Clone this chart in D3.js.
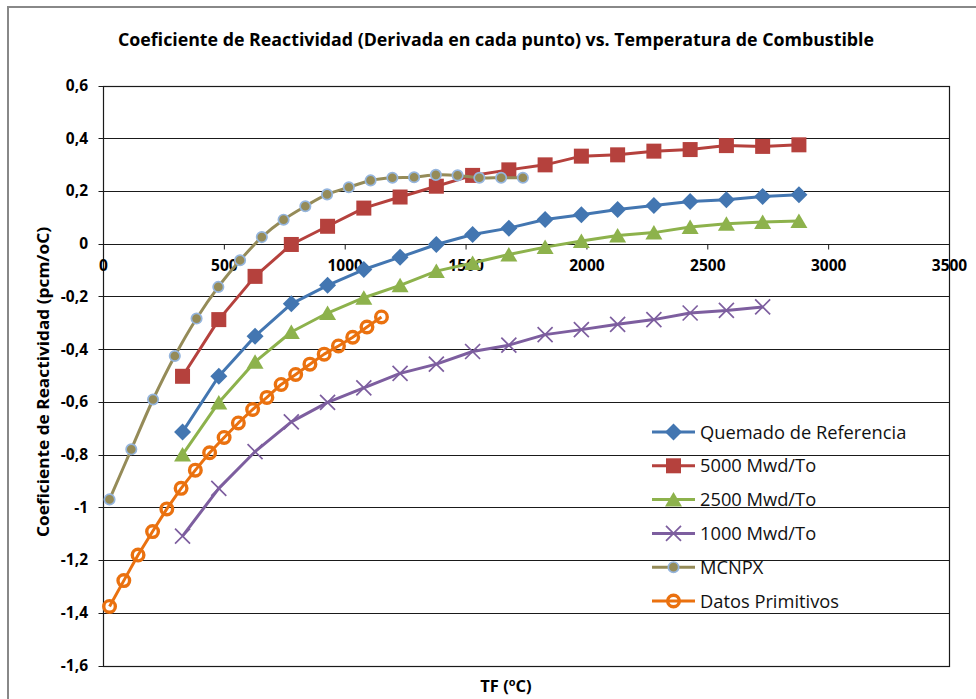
<!DOCTYPE html>
<html lang="es">
  <head>
    <meta charset="utf-8">
    <script src="https://d3js.org/d3.v7.min.js"></script>
    <style>
    body { margin: 0; background: #fff; }
    text { font-family: "Open Sans", "Noto Sans", sans-serif; }
    .grid line { stroke: #1a1a1a; stroke-width: 1px; }
    .tick-label { font-weight: bold; font-size: 15.5px; fill: #000; }
    </style>
    <title>Coeficiente de Reactividad</title>
  </head>
  <body>
    <script>
// x positions (TF, oC) of the calculated burnup cases
var xRef = [327, 477, 627, 777, 927, 1077, 1227, 1377, 1527, 1677, 1827, 1977, 2127, 2277, 2427, 2577, 2727, 2877];
var quemado = [-0.714, -0.503, -0.351, -0.228, -0.158, -0.098, -0.051, -0.003, 0.035, 0.059, 0.092, 0.110, 0.130, 0.145, 0.160, 0.167, 0.179, 0.186];
var mwd5000 = [-0.503, -0.288, -0.124, -0.003, 0.066, 0.135, 0.177, 0.218, 0.259, 0.280, 0.299, 0.332, 0.337, 0.351, 0.357, 0.372, 0.369, 0.375];
var mwd2500 = [-0.800, -0.602, -0.448, -0.335, -0.263, -0.205, -0.158, -0.104, -0.073, -0.041, -0.013, 0.010, 0.031, 0.042, 0.063, 0.076, 0.082, 0.086];
var x1000 = [327, 477, 627, 777, 927, 1077, 1227, 1377, 1527, 1677, 1827, 1977, 2127, 2277, 2427, 2577, 2727];
var mwd1000 = [-1.109, -0.928, -0.789, -0.676, -0.602, -0.547, -0.492, -0.457, -0.409, -0.385, -0.345, -0.326, -0.306, -0.288, -0.263, -0.253, -0.240];
var xMcnpx = [25, 115, 205, 295, 385, 475, 565, 655, 745, 835, 925, 1015, 1105, 1195, 1285, 1375, 1465, 1555, 1645, 1735];
var mcnpx = [-0.970, -0.780, -0.591, -0.426, -0.284, -0.164, -0.063, 0.025, 0.091, 0.142, 0.187, 0.214, 0.240, 0.250, 0.252, 0.261, 0.259, 0.250, 0.250, 0.250];
var xDatos = [25, 84, 143, 203, 262, 321, 380, 439, 499, 558, 617, 676, 735, 795, 854, 913, 972, 1031, 1090, 1150];
var datos = [-1.376, -1.278, -1.181, -1.092, -1.006, -0.928, -0.859, -0.793, -0.735, -0.680, -0.629, -0.583, -0.534, -0.496, -0.457, -0.419, -0.388, -0.355, -0.316, -0.278];

var xTicks = [0, 500, 1000, 1500, 2000, 2500, 3000, 3500];
var seriesNames = ["Quemado de Referencia", "5000 Mwd/To", "2500 Mwd/To", "1000 Mwd/To", "MCNPX", "Datos Primitivos"];

var series = [
  {name: seriesNames[0], xs: xRef, ys: quemado, color: "#4376B1", marker: "diamond"},
  {name: seriesNames[1], xs: xRef, ys: mwd5000, color: "#B5413D", marker: "square"},
  {name: seriesNames[2], xs: xRef, ys: mwd2500, color: "#8DB24C", marker: "triangle"},
  {name: seriesNames[3], xs: x1000, ys: mwd1000, color: "#7D5E9F", marker: "cross"},
  {name: seriesNames[4], xs: xMcnpx, ys: mcnpx, color: "#958B58", marker: "circle", smooth: true},
  {name: seriesNames[5], xs: xDatos, ys: datos, color: "#EA710F", marker: "ring"}
];

var w = 976, h = 699;
var svg = d3.select("body").append("svg").attr("width", w).attr("height", h);

// outer chart frame (cut off at right / bottom like the picture)
svg.append("rect").attr("x", 8).attr("y", 7).attr("width", 1100).attr("height", 1100)
   .attr("fill", "none").attr("stroke", "#888").attr("stroke-width", 2);

var x = d3.scaleLinear().domain([0, 3500]).range([103.5, 949.5]);
var y = d3.scaleLinear().domain([-1.6, 0.6]).range([665.5, 85.5]);

var loc = d3.formatLocale({decimal: ",", thousands: ".", grouping: [3], currency: ["", ""], minus: "-"});
var fmt = loc.format(".2~f");

// horizontal gridlines
svg.append("g").attr("class", "grid")
   .selectAll("line").data(y.ticks(11)).enter().append("line")
   .attr("x1", x(0) - 5).attr("x2", x(3500))
   .attr("y1", function(d) { return Math.round(y(d)) + 0.5; })
   .attr("y2", function(d) { return Math.round(y(d)) + 0.5; });

// plot border
svg.append("rect").attr("x", x(0)).attr("y", Math.round(y(0.6)) + 0.5)
   .attr("width", x(3500) - x(0)).attr("height", Math.round(y(-1.6)) - Math.round(y(0.6)))
   .attr("fill", "none").attr("stroke", "#1a1a1a").attr("stroke-width", 1.2);

// y labels
svg.append("g").selectAll("text").data(y.ticks(11)).enter().append("text")
   .attr("class", "tick-label")
   .attr("x", 88).attr("y", function(d) { return y(d); })
   .attr("dy", "0.35em").attr("text-anchor", "end")
   .text(function(d) { return fmt(d); });

// x axis sits on y = 0
var y0 = Math.round(y(0)) + 0.5;
svg.append("g").attr("class", "grid").selectAll("line").data(xTicks).enter().append("line")
   .attr("x1", function(d) { return x(d); }).attr("x2", function(d) { return x(d); })
   .attr("y1", y0).attr("y2", y0 + 5);
svg.append("g").selectAll("text").data(xTicks).enter().append("text")
   .attr("class", "tick-label")
   .attr("x", function(d) { return x(d); }).attr("y", y0 + 26)
   .attr("text-anchor", "middle")
   .text(function(d) { return d; });

// marker shapes
function drawMarker(g, type, color, px, py) {
  if (type === "diamond") {
    g.append("path").attr("d", "M" + px + "," + (py - 8.5) + "L" + (px + 8.5) + "," + py + "L" + px + "," + (py + 8.5) + "L" + (px - 8.5) + "," + py + "Z")
     .attr("fill", color);
  } else if (type === "square") {
    g.append("rect").attr("x", px - 7.5).attr("y", py - 7.5).attr("width", 15).attr("height", 15).attr("fill", color);
  } else if (type === "triangle") {
    g.append("path").attr("d", "M" + px + "," + (py - 7.5) + "L" + (px + 8.5) + "," + (py + 7) + "L" + (px - 8.5) + "," + (py + 7) + "Z")
     .attr("fill", color);
  } else if (type === "cross") {
    g.append("path").attr("d", "M" + (px - 7.5) + "," + (py - 7.5) + "L" + (px + 7.5) + "," + (py + 7.5) + "M" + (px + 7.5) + "," + (py - 7.5) + "L" + (px - 7.5) + "," + (py + 7.5))
     .attr("stroke", color).attr("stroke-width", 1.7).attr("fill", "none");
  } else if (type === "circle") {
    g.append("circle").attr("cx", px).attr("cy", py).attr("r", 5.2)
     .attr("fill", color).attr("stroke", "#95B5DD").attr("stroke-width", 1.7);
  } else if (type === "ring") {
    g.append("circle").attr("cx", px).attr("cy", py).attr("r", 5.8)
     .attr("fill", "none").attr("stroke", color).attr("stroke-width", 3.4);
  }
}

var line = d3.line().x(function(d) { return x(d[0]); }).y(function(d) { return y(d[1]); });
var smoothLine = d3.line().curve(d3.curveCatmullRom).x(function(d) { return x(d[0]); }).y(function(d) { return y(d[1]); });

series.forEach(function(s) {
  var pts = s.xs.map(function(v, i) { return [v, s.ys[i]]; });
  var g = svg.append("g");
  g.append("path").datum(pts)
   .attr("d", s.smooth ? smoothLine : line)
   .attr("fill", "none").attr("stroke", s.color).attr("stroke-width", 3)
   .attr("stroke-linejoin", "round");
  pts.forEach(function(p) { drawMarker(g, s.marker, s.color, x(p[0]), y(p[1])); });
});

// legend (no background, gridlines show through)
var legendY = d3.scalePoint().domain(seriesNames).range([432, 601]);
series.forEach(function(s) {
  var ly = legendY(s.name);
  var g = svg.append("g");
  g.append("line").attr("x1", 652).attr("x2", 695).attr("y1", ly).attr("y2", ly)
   .attr("stroke", s.color).attr("stroke-width", 3);
  drawMarker(g, s.marker, s.color, 673.5, ly);
  g.append("text").attr("x", 700).attr("y", ly).attr("dy", "0.36em")
   .style("font-size", "18.3px").style("fill", "#111").text(s.name);
});

// titles
svg.append("text").attr("x", 118).attr("y", 46).attr("textLength", 756)
   .attr("lengthAdjust", "spacingAndGlyphs")
   .style("font-size", "17px").style("font-weight", "bold").text("Coeficiente de Reactividad (Derivada en cada punto) vs. Temperatura de Combustible");

svg.append("text").attr("transform", "translate(49,382) rotate(-90)")
   .attr("text-anchor", "middle").attr("textLength", 310).attr("lengthAdjust", "spacingAndGlyphs")
   .style("font-size", "16.5px").style("font-weight", "bold").text("Coeficiente de Reactividad (pcm/oC)");

var xt = svg.append("text").attr("x", 506).attr("y", 692).attr("text-anchor", "middle")
   .style("font-size", "16.5px").style("font-weight", "bold");
xt.append("tspan").text("TF (");
xt.append("tspan").attr("dy", -6).style("font-size", "11px").text("o");
xt.append("tspan").attr("dy", 6).text("C)");
    </script>
  </body>
</html>
